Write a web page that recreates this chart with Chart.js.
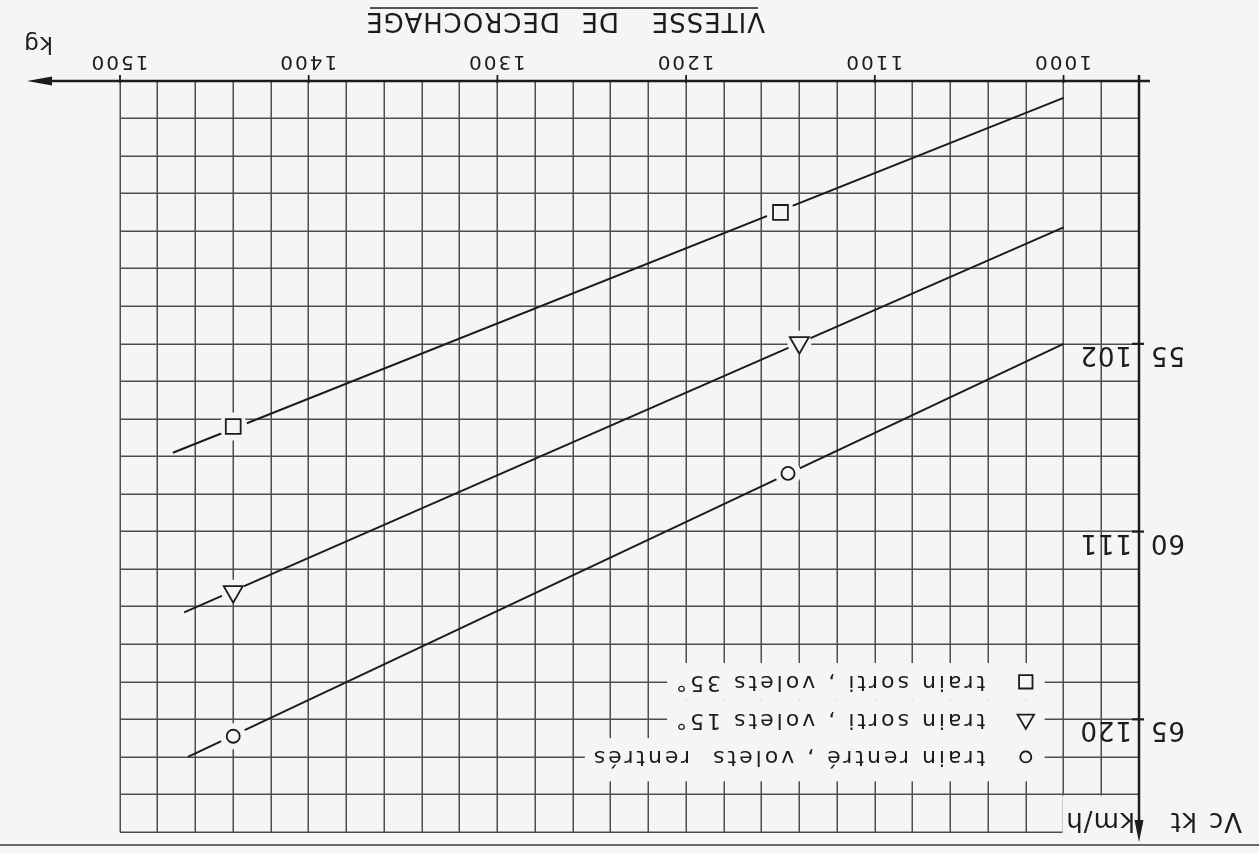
<!DOCTYPE html>
<html>
<head>
<meta charset="utf-8">
<script src="https://cdn.jsdelivr.net/npm/chart.js@4.4.1/dist/chart.umd.min.js"></script>
<style>
  html, body { margin: 0; padding: 0; background: #f5f5f5; }
  /* the sheet is mounted upside down */
  #sheet { width: 1259px; height: 853px; transform: rotate(180deg); }
</style>
</head>
<body>
<div id="sheet"><canvas id="c" width="1259" height="853"></canvas></div>
<script>
// Stall speed (Vc) against aircraft mass, three configurations
const massTicks = [1000, 1100, 1200, 1300, 1400, 1500];      // kg
const speedTicksKt = [55, 60, 65];                             // kt
const speedTicksKmh = [102, 111, 120];                         // km/h

const seriesLabels = [
  'train rentré , volets  rentrés',
  'train sorti , volets 15°',
  'train sorti , volets 35°'
];
const seriesStyles = ['circle', 'triangle', 'rect'];

// straight lines: start and end (mass kg, Vc kt)
const lineMass  = [[1000, 1464], [1000, 1466], [1000, 1472]];
const lineSpeed = [[55.0, 66.0], [51.9, 62.15], [48.45, 57.9]];

// plotted points on each line
const markMass  = [[1146, 1440], [1140, 1440], [1150, 1440]];
const markSpeed = [[58.45, 65.45], [54.97, 61.6], [51.5, 57.2]];

const BG = '#f5f5f5';
const INK = '#1c1c1c';
const GRID = '#4e4e4e';
const FONT = '"DejaVu Sans", sans-serif';

const markerRadius = [6.5, 11, 10.5];
const haloRadius = [13, 12, 14];

function pts(xs, ys) { return xs.map((v, i) => ({ x: v, y: ys[i] })); }

const datasets = [];
seriesLabels.forEach((label, i) => {
  datasets.push({
    label: label, data: pts(lineMass[i], lineSpeed[i]), showLine: true,
    borderColor: INK, borderWidth: 2, pointRadius: 0, fill: false, order: 3
  });
  datasets.push({
    label: label + ' (fond)', data: pts(markMass[i], markSpeed[i]), showLine: false,
    pointStyle: 'circle', pointRadius: haloRadius[i], pointBackgroundColor: BG,
    pointBorderWidth: 0, pointBorderColor: BG, order: 2
  });
  datasets.push({
    label: label + ' (points)', data: pts(markMass[i], markSpeed[i]), showLine: false,
    pointStyle: seriesStyles[i], pointRadius: markerRadius[i],
    pointBackgroundColor: 'rgba(0,0,0,0)', pointBorderColor: INK,
    pointBorderWidth: 1.8, order: 1
  });
});

// legend rows sit on the 66, 65 and 64 kt grid lines
const legendRowKt = [66, 65, 64];
const legendSymbolKg = 1020;
const legendTextKg = 1041.5;
const legendPanelKg = 1010;

function setFont(ctx, size, spacing) {
  ctx.font = size + 'px ' + FONT;
  ctx.letterSpacing = (spacing || 0) + 'px';
}

const sheetPlugin = {
  id: 'sheet',
  beforeDraw(chart) {
    const ctx = chart.ctx;
    ctx.save();
    ctx.fillStyle = BG;
    ctx.fillRect(0, 0, chart.width, chart.height);
    ctx.restore();
  },
  beforeDatasetsDraw(chart) {
    const { ctx, scales: { x, y } } = chart;
    ctx.save();
    ctx.fillStyle = BG;
    // corner kept free for the unit label
    ctx.fillRect(x.left + 2, y.top - 3, x.getPixelForValue(1000) + 1 - (x.left + 2),
                 y.getPixelForValue(67) - 1 - (y.top - 3));
    // legend panels
    setFont(ctx, 22, 3);
    legendRowKt.forEach((kt, i) => {
      const w = ctx.measureText(seriesLabels[i]).width;
      const x0 = x.getPixelForValue(legendPanelKg);
      const x1 = x.getPixelForValue(legendTextKg) + w + 6;
      const top = y.getPixelForValue(i === 0 ? kt + 0.65 : kt + 0.5);
      const bot = y.getPixelForValue(kt - 0.5);
      ctx.fillRect(x0, top, x1 - x0, bot - top);
    });
    ctx.restore();
  },
  afterDraw(chart) {
    const { ctx, scales: { x, y } } = chart;
    const L = x.left, B = y.bottom;
    ctx.save();
    ctx.strokeStyle = INK;
    ctx.fillStyle = INK;
    ctx.lineCap = 'butt';

    // vertical axis with arrow
    ctx.lineWidth = 2.5;
    ctx.beginPath(); ctx.moveTo(L, B + 6); ctx.lineTo(L, 28); ctx.stroke();
    ctx.beginPath(); ctx.moveTo(L, 11); ctx.lineTo(L - 4.5, 33); ctx.lineTo(L + 4.5, 33); ctx.closePath(); ctx.fill();

    // horizontal axis with arrow
    ctx.beginPath(); ctx.moveTo(L - 11, B); ctx.lineTo(1212, B); ctx.stroke();
    ctx.beginPath(); ctx.moveTo(1232, B); ctx.lineTo(1207, B - 4.5); ctx.lineTo(1207, B + 4.5); ctx.closePath(); ctx.fill();

    // mass ticks and labels
    ctx.lineWidth = 1.8;
    setFont(ctx, 20, 2);
    ctx.textAlign = 'center';
    ctx.textBaseline = 'alphabetic';
    massTicks.forEach(m => {
      const px = x.getPixelForValue(m);
      ctx.beginPath(); ctx.moveTo(px, B - 2); ctx.lineTo(px, B + 6); ctx.stroke();
      ctx.fillText(String(m), px + 1, B + 25);
    });

    // speed ticks and labels (kt left of the axis, km/h right of it)
    setFont(ctx, 26, 1);
    speedTicksKt.forEach((kt, i) => {
      const py = y.getPixelForValue(kt);
      ctx.lineWidth = 2.2;
      ctx.beginPath(); ctx.moveTo(L - 5, py); ctx.lineTo(L + 7, py); ctx.stroke();
      ctx.textAlign = 'right';
      ctx.fillText(String(kt), L - 11, py - 3);
      ctx.textAlign = 'left';
      ctx.fillText(String(speedTicksKmh[i]), L + 7, py - 3);
    });

    // axis units
    setFont(ctx, 26, 1);
    ctx.textAlign = 'left';
    ctx.fillText('Vc', 17, 40);
    ctx.fillText('kt', 62, 40);
    ctx.fillText('km/h', 124, 40);
    setFont(ctx, 23, 1);
    ctx.fillText('kg', 1206, 816);

    // title, underlined
    setFont(ctx, 26, 1);
    ctx.fillText('VITESSE', 494, 840);
    ctx.fillText('DE', 640, 840);
    ctx.fillText('DECROCHAGE', 699, 840);
    ctx.lineWidth = 1.6;
    ctx.beginPath(); ctx.moveTo(501, 845); ctx.lineTo(889, 845); ctx.stroke();

    // legend
    legendRowKt.forEach((kt, i) => {
      const py = y.getPixelForValue(kt);
      ctx.lineWidth = 1.8;
      ctx.strokeStyle = INK;
      ctx.fillStyle = 'rgba(0,0,0,0)';
      const r = seriesStyles[i] === 'circle' ? 5.5 : 9.5;
      Chart.helpers.drawPoint(ctx, { pointStyle: seriesStyles[i], radius: r, rotation: 0, borderWidth: 1.8 },
                              x.getPixelForValue(legendSymbolKg), py);
      ctx.fillStyle = INK;
      setFont(ctx, 22, 3);
      ctx.textAlign = 'left';
      ctx.textBaseline = 'middle';
      ctx.fillText(seriesLabels[i], x.getPixelForValue(legendTextKg), py);
    });

    // edge of the sheet
    ctx.strokeStyle = '#6a6a6a';
    ctx.lineWidth = 2;
    ctx.beginPath(); ctx.moveTo(0, 8); ctx.lineTo(chart.width, 8); ctx.stroke();
    ctx.restore();
  }
};

new Chart(document.getElementById('c'), {
  type: 'scatter',
  data: { datasets: datasets },
  options: {
    responsive: false,
    animation: false,
    events: [],
    layout: { padding: { left: 120, right: 120, top: 21, bottom: 81 } },
    plugins: { legend: { display: false }, tooltip: { enabled: false } },
    scales: {
      x: {
        type: 'linear', min: 960, max: 1500,
        ticks: { stepSize: 20, display: false },
        grid: { color: GRID, lineWidth: 1.5, drawTicks: false },
        border: { display: false }
      },
      y: {
        type: 'linear', min: 48, max: 68,
        ticks: { stepSize: 1, display: false },
        grid: { color: GRID, lineWidth: 1.5, drawTicks: false },
        border: { display: false }
      }
    }
  },
  plugins: [sheetPlugin]
});
</script>
</body>
</html>
